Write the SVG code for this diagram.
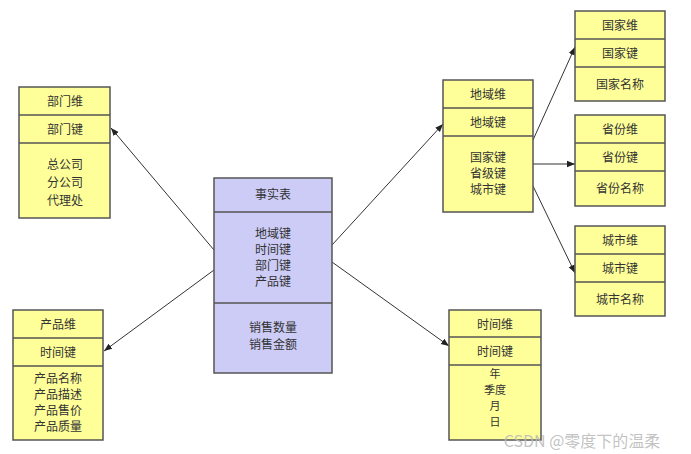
<svg xmlns="http://www.w3.org/2000/svg" width="691" height="454" viewBox="0 0 691 454">
<style>
.y{fill:#ffff99;stroke:#555;stroke-width:1.5}
.f{fill:#ccccf7;stroke:#555;stroke-width:1.5}
.d{stroke:#555;stroke-width:1.5}
text{font-family:"Noto Sans CJK SC","Liberation Sans",sans-serif;font-size:12px;fill:#333;text-anchor:middle}
.s{font-size:11px}
.c line{stroke:#333;stroke-width:1;marker-end:url(#a)}
</style>
<defs><marker id="a" viewBox="0 0 10 10" refX="10" refY="5" markerWidth="8" markerHeight="8" orient="auto"><path d="M0,1 L10,5 L0,9 z" fill="#222"/></marker></defs>
<rect width="691" height="454" fill="#fff"/>
<g class="c">
<line x1="214" y1="250" x2="111" y2="128"/>
<line x1="214" y1="270" x2="104" y2="351"/>
<line x1="332" y1="245" x2="443" y2="124"/>
<line x1="332" y1="262" x2="449" y2="346"/>
<line x1="533" y1="140" x2="575" y2="47"/>
<line x1="533" y1="164" x2="575" y2="164"/>
<line x1="533" y1="186" x2="575" y2="273"/>
</g>
<g id="dept"><rect class="y" x="19" y="87" width="91" height="131"/><line class="d" x1="19" y1="115" x2="110" y2="115"/><line class="d" x1="19" y1="143" x2="110" y2="143"/>
<text x="65" y="106">部门维</text><text x="65" y="134">部门键</text><text x="65" y="169">总公司</text><text x="65" y="187">分公司</text><text x="65" y="205">代理处</text></g>
<g id="product"><rect class="y" x="13" y="310" width="90" height="130"/><line class="d" x1="13" y1="338" x2="103" y2="338"/><line class="d" x1="13" y1="366" x2="103" y2="366"/>
<text x="58" y="329">产品维</text><text x="58" y="357">时间键</text><text x="58" y="383">产品名称</text><text x="58" y="399">产品描述</text><text x="58" y="415">产品售价</text><text x="58" y="431">产品质量</text></g>
<g id="fact"><rect class="f" x="214" y="178" width="118" height="195"/><line class="d" x1="214" y1="212" x2="332" y2="212"/><line class="d" x1="214" y1="303" x2="332" y2="303"/>
<text x="273" y="199">事实表</text><text x="273" y="238">地域键</text><text x="273" y="254">时间键</text><text x="273" y="270">部门键</text><text x="273" y="286">产品键</text><text x="273" y="332">销售数量</text><text x="273" y="349">销售金额</text></g>
<g id="region"><rect class="y" x="443" y="80" width="90" height="132"/><line class="d" x1="443" y1="108" x2="533" y2="108"/><line class="d" x1="443" y1="136" x2="533" y2="136"/>
<text x="488" y="99">地域维</text><text x="488" y="127">地域键</text><text x="488" y="162">国家键</text><text x="488" y="178">省级键</text><text x="488" y="194">城市键</text></g>
<g id="country"><rect class="y" x="575" y="11" width="90" height="90"/><line class="d" x1="575" y1="39" x2="665" y2="39"/><line class="d" x1="575" y1="67" x2="665" y2="67"/>
<text x="620" y="30">国家维</text><text x="620" y="58">国家键</text><text x="620" y="89">国家名称</text></g>
<g id="province"><rect class="y" x="575" y="115" width="90" height="91"/><line class="d" x1="575" y1="143" x2="665" y2="143"/><line class="d" x1="575" y1="171" x2="665" y2="171"/>
<text x="620" y="134">省份维</text><text x="620" y="162">省份键</text><text x="620" y="193">省份名称</text></g>
<g id="city"><rect class="y" x="575" y="226" width="90" height="90"/><line class="d" x1="575" y1="254" x2="665" y2="254"/><line class="d" x1="575" y1="282" x2="665" y2="282"/>
<text x="620" y="245">城市维</text><text x="620" y="273">城市键</text><text x="620" y="304">城市名称</text></g>
<g id="time"><rect class="y" x="449" y="310" width="92" height="130"/><line class="d" x1="449" y1="337" x2="541" y2="337"/><line class="d" x1="449" y1="365" x2="541" y2="365"/>
<text x="495" y="329">时间维</text><text x="495" y="356">时间键</text>
<text class="s" x="495" y="378">年</text><text class="s" x="495" y="394">季度</text><text class="s" x="495" y="410">月</text><text class="s" x="495" y="426">日</text></g>
<text x="582" y="447" style="font-size:16px;fill:#bbb;fill-opacity:0.9">CSDN @零度下的温柔</text>
</svg>
